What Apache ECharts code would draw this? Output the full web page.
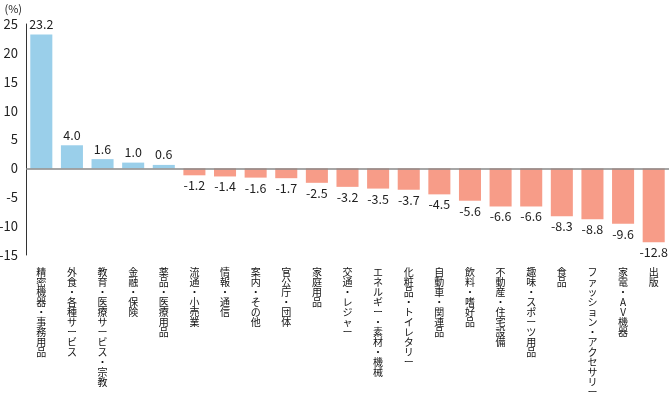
<!DOCTYPE html>
<html>
<head>
<meta charset="utf-8">
<script src="https://cdn.jsdelivr.net/npm/echarts@6/dist/echarts.min.js"></script>
<style>
  html, body { margin: 0; padding: 0; background: #fff; }
  #chart { width: 670px; height: 397px; }
</style>
</head>
<body>
<div id="chart"></div>
<script>
// 業種別 前年比 (%)
var categories = [
  '精密機器・事務用品', '外食・各種サービス', '教育・医療サービス・宗教', '金融・保険',
  '薬品・医療用品', '流通・小売業', '情報・通信', '案内・その他', '官公庁・団体',
  '家庭用品', '交通・レジャー', 'エネルギー・素材・機械', '化粧品・トイレタリー',
  '自動車・関連品', '飲料・嗜好品', '不動産・住宅設備', '趣味・スポーツ用品',
  '食品', 'ファッション・アクセサリー', '家電・AV機器', '出版'
];
var values = [23.2, 4.0, 1.6, 1.0, 0.6, -1.2, -1.4, -1.6, -1.7, -2.5, -3.2, -3.5, -3.7,
  -4.5, -5.6, -6.6, -6.6, -8.3, -8.8, -9.6, -12.8];
var yTicks = { min: -15, max: 25, step: 5 };

var font = '"Noto Sans CJK JP", "Noto Sans", sans-serif';
var chart = echarts.init(document.getElementById('chart'));

chart.setOption({
  animation: false,
  textStyle: { fontFamily: font },
  grid: { left: 26, right: 1, top: 24, bottom: 142, outerBoundsMode: 'none' },
  xAxis: {
    type: 'category',
    data: categories,
    axisLine: { show: false, onZero: false },
    axisTick: { show: false },
    axisLabel: {
      interval: 0,
      margin: 12,
      fontSize: 10,
      lineHeight: 10,
      color: '#111',
      verticalAlign: 'top',
      formatter: function (v) { return v.split('').join('\n'); }
    }
  },
  yAxis: {
    type: 'value',
    min: yTicks.min,
    max: yTicks.max,
    interval: yTicks.step,
    name: '(%)',
    nameLocation: 'end',
    nameGap: 10,
    nameTextStyle: { fontSize: 11, color: '#222', align: 'right', padding: [0, 4, 0, 0] },
    axisLine: { show: true, lineStyle: { color: '#333', width: 1 } },
    axisTick: { show: false },
    splitLine: { show: false },
    axisLabel: { fontSize: 13, color: '#222', margin: 8 }
  },
  series: [{
    type: 'bar',
    barCategoryGap: '28%',
    data: values.map(function (v) {
      return {
        value: v,
        itemStyle: { color: v >= 0 ? '#9acfea' : '#f79c88' },
        label: { position: v >= 0 ? 'top' : 'bottom' }
      };
    }),
    label: {
      show: true,
      fontSize: 12.5,
      color: '#222',
      distance: 4,
      formatter: function (p) { return p.value.toFixed(1); }
    },
    markLine: {
      silent: true,
      symbol: 'none',
      label: { show: false },
      lineStyle: { color: '#888', type: 'solid', width: 1.5 },
      data: [{ yAxis: 0 }]
    }
  }]
});
</script>
</body>
</html>
